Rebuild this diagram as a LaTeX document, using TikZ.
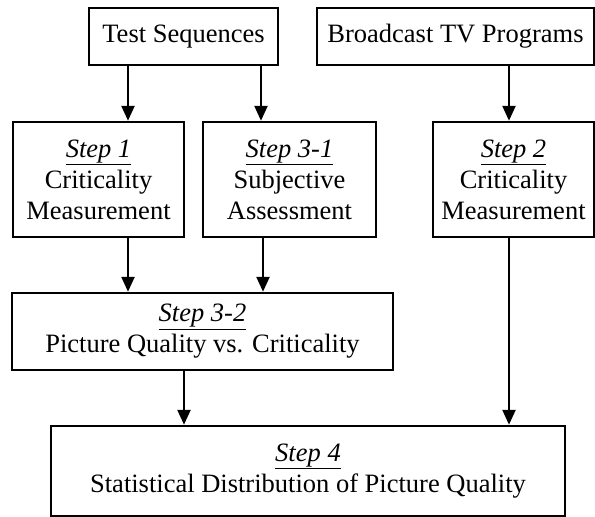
\documentclass[tikz,border=0pt]{standalone}
\usepackage{fontspec}
\setmainfont{Liberation Serif}
\usetikzlibrary{arrows.meta}
\begin{document}
\begin{tikzpicture}[x=1pt,y=-1pt,
  box/.style={draw=black,line width=2.5pt,rectangle,inner sep=0pt,align=center,
    font=\fontsize{26.5}{31}\selectfont},
  arr/.style={line width=2.5pt,-{Triangle[length=15pt,width=13pt]}}]
\useasboundingbox (0,0) rectangle (595,517);
\fill[white] (0,0) rectangle (595,517);
\newcommand{\stepl}[1]{\underline{\textit{#1}}}
\node[box,minimum width=189pt,minimum height=57pt] (ts) at (183.5,36.5) {Test Sequences};
\node[box,minimum width=277pt,minimum height=57pt] (bt) at (455.5,36.5) {Broadcast TV Programs};
\node[box,minimum width=171pt,minimum height=115pt] (s1) at (98.5,179.5) {\stepl{Step 1}\\Criticality\\Measurement};
\node[box,minimum width=173pt,minimum height=115pt] (s31) at (289.5,179.5) {\stepl{Step 3-1}\\Subjective\\Assessment};
\node[box,minimum width=161pt,minimum height=115pt] (s2) at (513.5,179.5) {\stepl{Step 2}\\Criticality\\Measurement};
\node[box,minimum width=381pt,minimum height=77pt] (s32) at (202.5,331.5) {\stepl{Step 3-2}\\Picture Quality vs. Criticality};
\node[box,minimum width=514pt,minimum height=90pt] (s4) at (308,471) {\stepl{Step 4}\\Statistical Distribution of Picture Quality};
\coordinate (xa) at (128,0);
\coordinate (xb) at (261,0);
\coordinate (xc) at (509,0);
\coordinate (xd) at (263,0);
\coordinate (xe) at (184,0);
\draw[arr] (ts.south -| xa) -- (s1.north -| xa);
\draw[arr] (ts.south -| xb) -- (s31.north -| xb);
\draw[arr] (bt.south -| xc) -- (s2.north -| xc);
\draw[arr] (s1.south -| xa) -- (s32.north -| xa);
\draw[arr] (s31.south -| xd) -- (s32.north -| xd);
\draw[arr] (s32.south -| xe) -- (s4.north -| xe);
\draw[arr] (s2.south -| xc) -- (s4.north -| xc);
\end{tikzpicture}
\end{document}
